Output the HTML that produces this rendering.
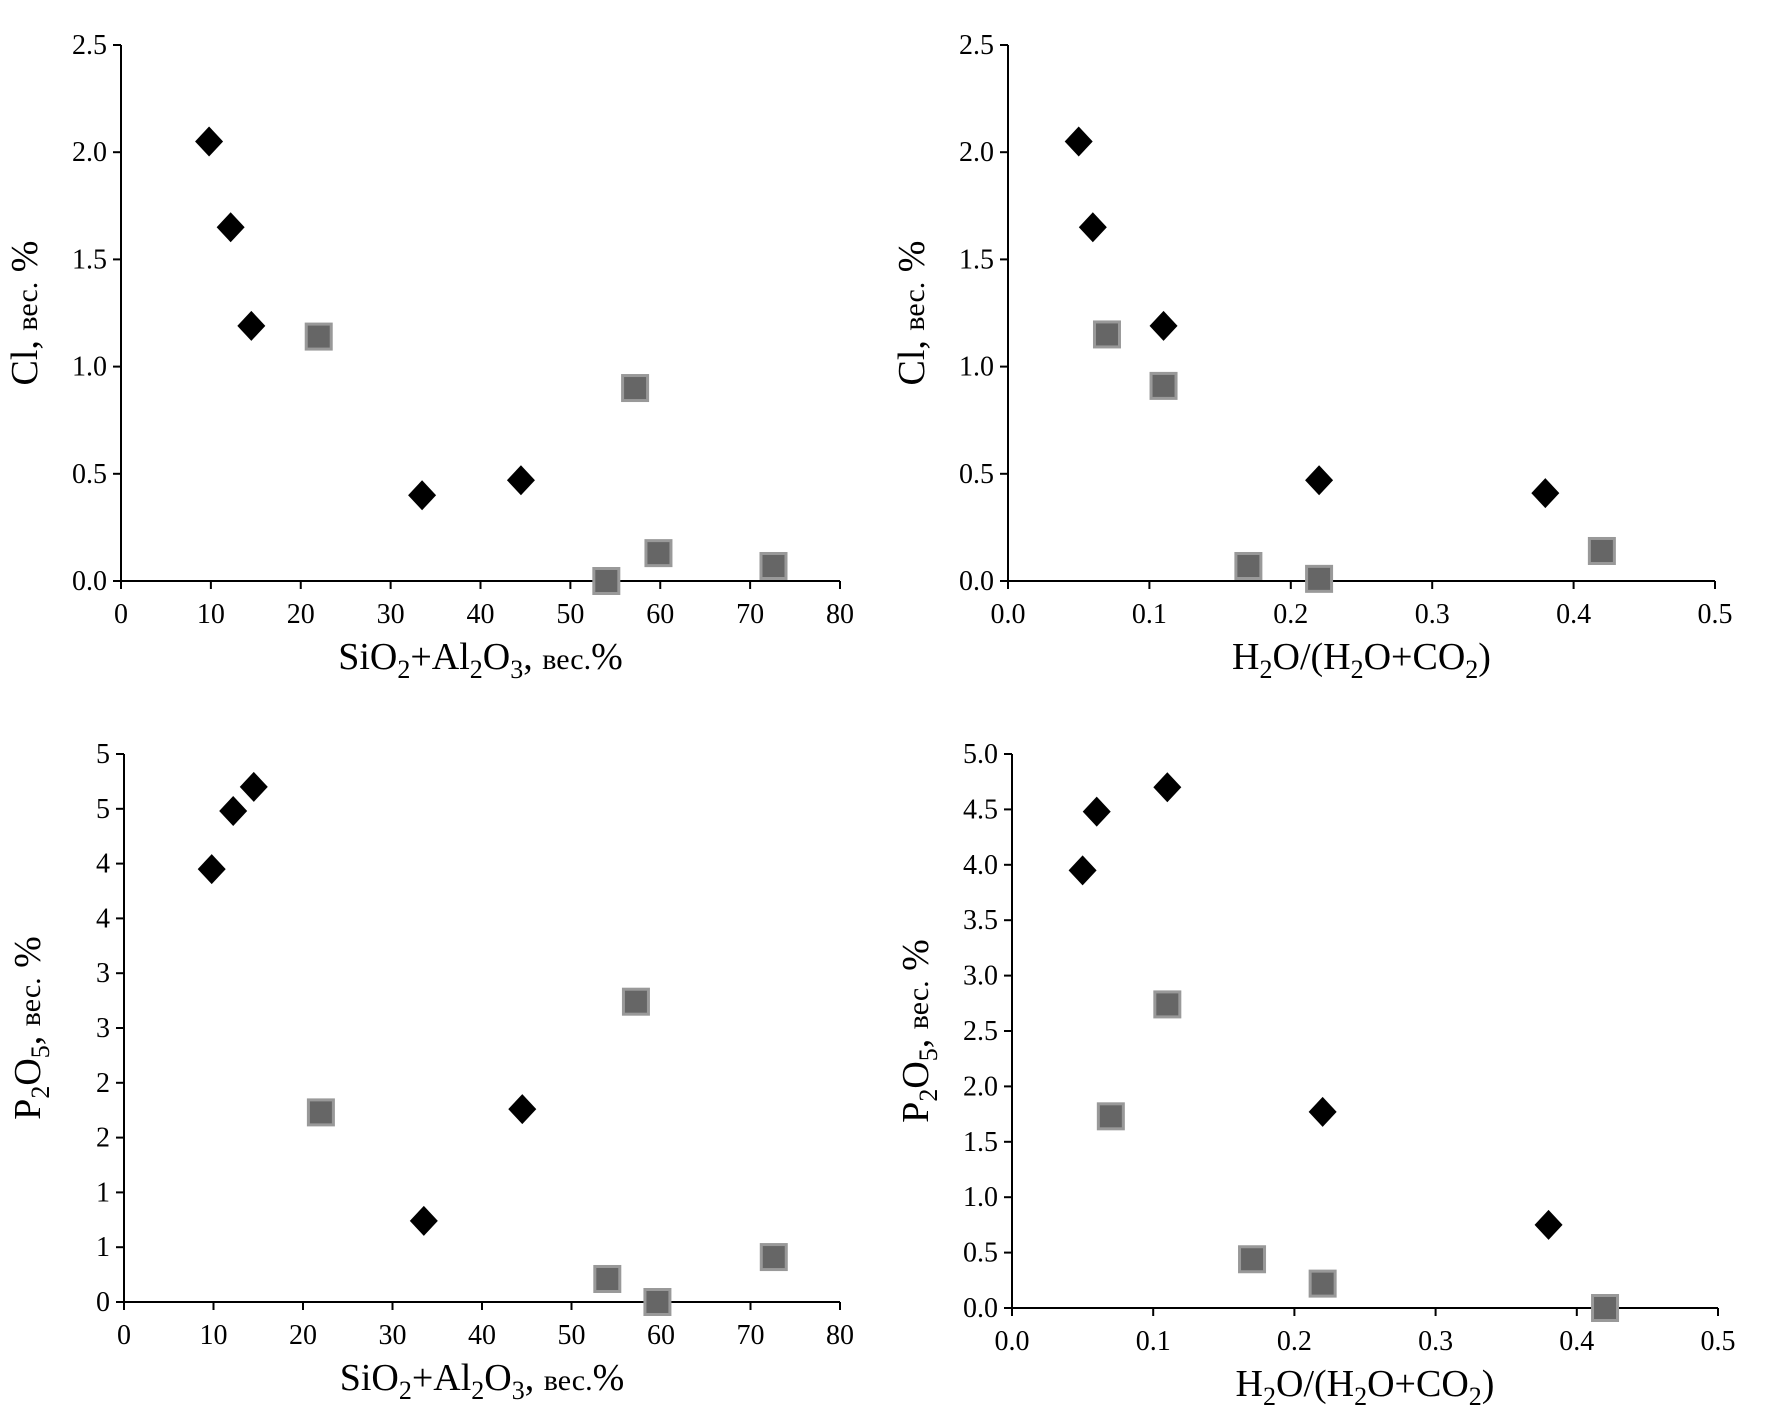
<!DOCTYPE html>
<html><head><meta charset="utf-8">
<style>
html,body{margin:0;padding:0;background:#fff;}
svg{display:block;font-family:"Liberation Serif",serif;}
</style></head>
<body>
<svg id="chart" width="1785" height="1424" viewBox="0 0 1785 1424" xmlns="http://www.w3.org/2000/svg"></svg>
<script>
// Panel A: Cl vs SiO2+Al2O3
const aDiaX = [9.8, 12.2, 14.5, 33.5, 44.5];
const aDiaY = [2.05, 1.65, 1.19, 0.40, 0.47];
const aSqX = [22, 57.2, 54, 59.8, 72.6];
const aSqY = [1.14, 0.90, 0.0, 0.13, 0.07];
// Panel B: Cl vs H2O/(H2O+CO2)
const bDiaX = [0.05, 0.06, 0.11, 0.22, 0.38];
const bDiaY = [2.05, 1.65, 1.19, 0.47, 0.41];
const bSqX = [0.07, 0.11, 0.17, 0.22, 0.42];
const bSqY = [1.15, 0.91, 0.07, 0.01, 0.14];
// Panel C: P2O5 vs SiO2+Al2O3
const cDiaX = [9.8, 12.2, 14.5, 33.5, 44.5];
const cDiaY = [3.95, 4.48, 4.70, 0.74, 1.76];
const cSqX = [22, 57.2, 54, 59.6, 72.6];
const cSqY = [1.73, 2.74, 0.21, 0.0, 0.41];
// Panel D: P2O5 vs H2O/(H2O+CO2)
const dDiaX = [0.05, 0.06, 0.11, 0.22, 0.38];
const dDiaY = [3.95, 4.48, 4.70, 1.77, 0.75];
const dSqX = [0.07, 0.11, 0.17, 0.22, 0.42];
const dSqY = [1.73, 2.74, 0.44, 0.22, 0.0];
// tick labels
const xTicksSi = ["0","10","20","30","40","50","60","70","80"];
const xTicksH = ["0.0","0.1","0.2","0.3","0.4","0.5"];
const yTicksCl = ["0.0","0.5","1.0","1.5","2.0","2.5"];
const yTicksPa = ["0","1","1","2","2","3","3","4","4","5","5"];
const yTicksPb = ["0.0","0.5","1.0","1.5","2.0","2.5","3.0","3.5","4.0","4.5","5.0"];

const NS = "http://www.w3.org/2000/svg";
const svg = document.getElementById('chart');
function mk(tag, attrs, parent){
  const e = document.createElementNS(NS, tag);
  for (const k in attrs) e.setAttribute(k, attrs[k]);
  (parent||svg).appendChild(e);
  return e;
}

function panel(id, box, xmax, ymax, xt, yt, dX, dY, sX, sY, xTitle, yTitle){
  const g = mk('g', {});
  
  
  const sx = v => box.x0 + (v / xmax) * (box.x1 - box.x0);
  const sy = v => box.y1 - (v / ymax) * (box.y1 - box.y0);
  const ax = mk('g', {stroke:'#000','stroke-width':2}, g);
  
  
  mk('line', {x1:box.x0, y1:box.y0, x2:box.x0, y2:box.y1}, ax);
  mk('line', {x1:box.x0, y1:box.y1, x2:box.x1, y2:box.y1}, ax);
  xt.forEach((t, i) => {
    const v = i * xmax / (xt.length - 1);
    const x = sx(v);
    mk('line', {x1:x, y1:box.y1, x2:x, y2:box.y1 + 8}, ax);
    const tx = mk('text', {x:x, y:box.y1 + 42, 'text-anchor':'middle', 'font-size':28}, g);
    
    
    tx.textContent = t;
  });
  yt.forEach((t, i) => {
    const v = i * ymax / (yt.length - 1);
    const y = sy(v);
    mk('line', {x1:box.x0 - 8, y1:y, x2:box.x0, y2:y}, ax);
    const tx = mk('text', {x:box.x0 - 14, y:y + 9, 'text-anchor':'end', 'font-size':28}, g);
    
    
    tx.textContent = t;
  });
  sX.forEach((v, i) => {
    const x = sx(v), y = sy(sY[i]);
    const r = mk('rect', {x:x - 12.5, y:y - 12.5, width:25, height:25, fill:'#666', stroke:'#999', 'stroke-width':3}, g);
    
    
  });
  dX.forEach((v, i) => {
    const x = sx(v), y = sy(dY[i]);
    const p = mk('polygon', {points:`${x},${y-15} ${x+14},${y} ${x},${y+15} ${x-14},${y}`, fill:'#000'}, g);
    
    
  });
  const xtl = mk('text', {x:(box.x0 + box.x1) / 2, y:box.y1 + 88, 'text-anchor':'middle', 'font-size':38}, g);
  
  
  xtl.innerHTML = xTitle;
  const cy = (box.y0 + box.y1) / 2;
  const ytl = mk('text', {x:0, y:0, 'text-anchor':'middle', 'font-size':38, transform:`translate(${box.x0 - 84},${cy}) rotate(-90)`}, g);
  
  
  ytl.innerHTML = yTitle;
}

const sub = s => `<tspan font-size="26" baseline-shift="-9">${s}</tspan>`;
const siTitle = `SiO${sub('2')}+Al${sub('2')}O${sub('3')}, <tspan font-size="30">вес.</tspan>%`;
const hTitle = `H${sub('2')}O/(H${sub('2')}O+CO${sub('2')})`;
const clTitle = `Cl, <tspan font-size="30">вес.</tspan> %`;
const pTitle = `P${sub('2')}O${sub('5')}, <tspan font-size="30">вес.</tspan> %`;

panel('panel-cl-si', {x0:121, x1:840, y0:45, y1:581}, 80, 2.5, xTicksSi, yTicksCl, aDiaX, aDiaY, aSqX, aSqY, siTitle, clTitle);
panel('panel-cl-h2o', {x0:1008, x1:1715, y0:45, y1:581}, 0.5, 2.5, xTicksH, yTicksCl, bDiaX, bDiaY, bSqX, bSqY, hTitle, clTitle);
panel('panel-p-si', {x0:124, x1:840, y0:754, y1:1302}, 80, 5, xTicksSi, yTicksPa, cDiaX, cDiaY, cSqX, cSqY, siTitle, pTitle);
panel('panel-p-h2o', {x0:1012, x1:1718, y0:754, y1:1308}, 0.5, 5, xTicksH, yTicksPb, dDiaX, dDiaY, dSqX, dSqY, hTitle, pTitle);
</script>
</body></html>
